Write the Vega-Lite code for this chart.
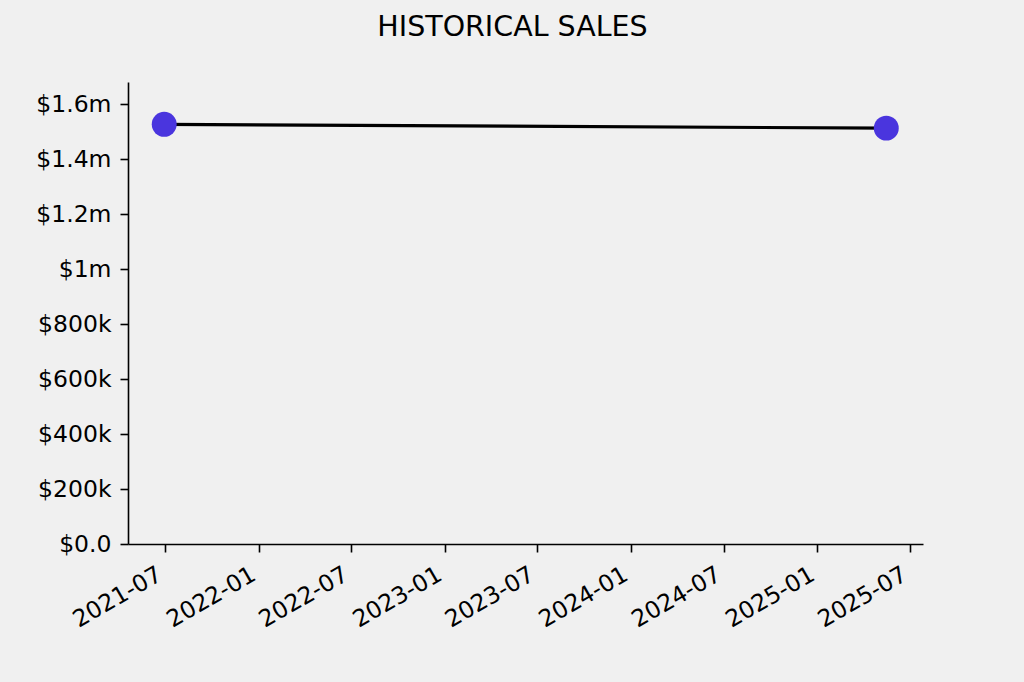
{
  "$schema": "https://vega.github.io/schema/vega-lite/v6.json",
  "width": 795,
  "height": 462,
  "autosize": {"type": "none"},
  "padding": {"left": 128, "top": 82, "right": 101, "bottom": 138},
  "background": "#f0f0f0",
  "title": {
    "text": "HISTORICAL SALES",
    "font": "DejaVu Sans",
    "fontSize": 28.5,
    "fontWeight": "normal",
    "color": "#000000",
    "anchor": "middle",
    "baseline": "alphabetic",
    "offset": 18,
    "dx": -13
  },
  "config": {
    "view": {"stroke": null},
    "axis": {
      "labelFont": "DejaVu Sans",
      "labelFontSize": 23.5,
      "labelColor": "#000000",
      "domainColor": "#000000",
      "domainWidth": 1.6,
      "tickColor": "#000000",
      "tickWidth": 1.6,
      "tickSize": 8,
      "grid": false,
      "title": null
    }
  },
  "data": {
    "values": [
      {"date": "2021-06-30", "sales": 1527000},
      {"date": "2025-05-16", "sales": 1513000}
    ]
  },
  "encoding": {
    "x": {
      "field": "date",
      "type": "temporal",
      "scale": {"type": "utc", "domain": ["2021-04-20", "2025-07-27"]},
      "axis": {
        "values": [
          {"year": 2021, "month": 7, "date": 1, "utc": true},
          {"year": 2022, "month": 1, "date": 1, "utc": true},
          {"year": 2022, "month": 7, "date": 1, "utc": true},
          {"year": 2023, "month": 1, "date": 1, "utc": true},
          {"year": 2023, "month": 7, "date": 1, "utc": true},
          {"year": 2024, "month": 1, "date": 1, "utc": true},
          {"year": 2024, "month": 7, "date": 1, "utc": true},
          {"year": 2025, "month": 1, "date": 1, "utc": true},
          {"year": 2025, "month": 7, "date": 1, "utc": true}
        ],
        "labelExpr": "utcFormat(datum.value, '%Y-%m')",
        "labelAngle": -30,
        "labelAlign": "right",
        "labelBaseline": "top",
        "labelPadding": 10,
        "labelOffset": -11,
        "labelOverlap": false
      }
    },
    "y": {
      "field": "sales",
      "type": "quantitative",
      "scale": {"domain": [0, 1681000], "nice": false, "zero": true},
      "axis": {
        "values": [0, 200000, 400000, 600000, 800000, 1000000, 1200000, 1400000, 1600000],
        "labelExpr": "datum.value == 0 ? '$0.0' : (datum.value >= 1000000 ? '$' + format(datum.value / 1000000, '~g') + 'm' : '$' + format(datum.value / 1000, '~g') + 'k')",
        "labelPadding": 9
      }
    }
  },
  "layer": [
    {"mark": {"type": "line", "color": "#000000", "strokeWidth": 3.2}},
    {"mark": {"type": "circle", "color": "#4a35de", "opacity": 1, "size": 620}}
  ]
}
